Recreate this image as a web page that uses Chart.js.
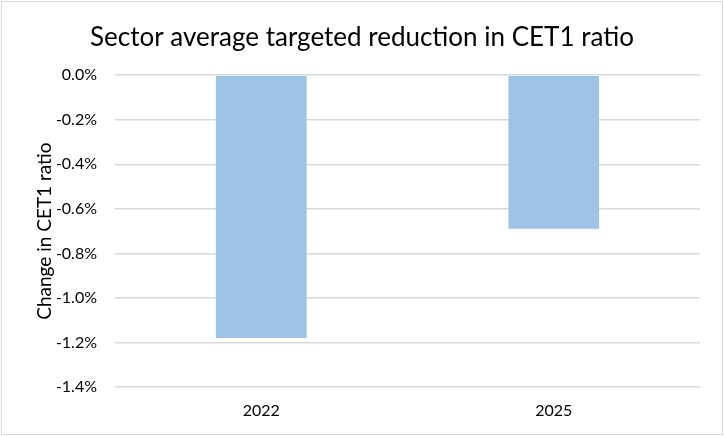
<!doctype html>
<html lang="en">
<head>
	<meta charset="utf-8">
	<title>CET1 ratio</title>
	<style>
		body { margin: 0; background: #fff; }
		#wrap { position: relative; width: 724px; height: 436px; }
		#frame { position: absolute; left: 1px; top: 1px; width: 722px; height: 434px; border: 1.5px solid #d9d9d9; box-sizing: border-box; }
	</style>
</head>

<body>
	<script src="https://cdn.jsdelivr.net/npm/chart.js@4/dist/chart.umd.min.js"></script>

	<div id="wrap">
		<div id="frame"></div>
		<canvas id="myChart"></canvas>
	</div>

	<script>
		var years = ["2022", "2025"];
		var reduction = [-1.18, -0.69];
		var yTicks = [0, -0.2, -0.4, -0.6, -0.8, -1.0, -1.2, -1.4];
		var yTitle = 'Change in CET1 ratio';

		// axis title drawn by hand so it can sit close to the frame edge
		var yTitlePlugin = {
			id: 'yTitle',
			afterDraw: function(chart) {
				var c = chart.ctx;
				var y = (chart.chartArea.top + chart.chartArea.bottom) / 2;
				c.save();
				c.translate(45, y);
				c.rotate(-Math.PI / 2);
				c.font = '19px Lato';
				c.fillStyle = '#000';
				c.textAlign = 'center';
				c.textBaseline = 'middle';
				c.fillText(yTitle, 0, 0);
				c.restore();
			}
		};

		var ctx = document.getElementById("myChart");
		var myChart = new Chart(ctx, {
			type: 'bar',
			data: {
				labels: years,
				datasets: [{
					label: yTitle,
					data: reduction,
					backgroundColor: "#9dc3e6",
					borderWidth: 0,
					barPercentage: 0.31,
					categoryPercentage: 1
				}]
			},
			plugins: [yTitlePlugin],
			options: {
				responsive: true,
				maintainAspectRatio: false,
				animation: false,
				layout: { padding: { left: 24, right: 24, top: 0, bottom: 0 } },
				plugins: {
					legend: { display: false },
					tooltip: { enabled: false },
					title: {
						display: true,
						text: 'Sector average targeted reduction in CET1 ratio',
						color: '#000',
						font: { family: 'Lato', size: 26, weight: 'normal' },
						padding: { top: 22, bottom: 22 }
					}
				},
				scales: {
					x: {
						grid: { display: false, drawTicks: false },
						border: { display: false },
						afterFit: function(axis) { axis.height = 49; },
						ticks: { color: '#000', font: { family: 'Lato', size: 16 }, padding: 14 }
					},
					y: {
						min: Math.min.apply(null, yTicks),
						max: Math.max.apply(null, yTicks),
						afterBuildTicks: function(axis) { axis.ticks = yTicks.map(function(v) { return { value: v }; }); },
						afterFit: function(axis) { axis.width = 91; },
						grid: { color: '#d9d9d9', lineWidth: 1.5, drawTicks: false },
						border: { display: false },
						ticks: {
							color: '#000',
							font: { family: 'Lato', size: 16 },
							padding: 18,
							callback: function(v) { return v.toFixed(1) + '%'; }
						}
					}
				}
			}
		});
	</script>
</body>
</html>
